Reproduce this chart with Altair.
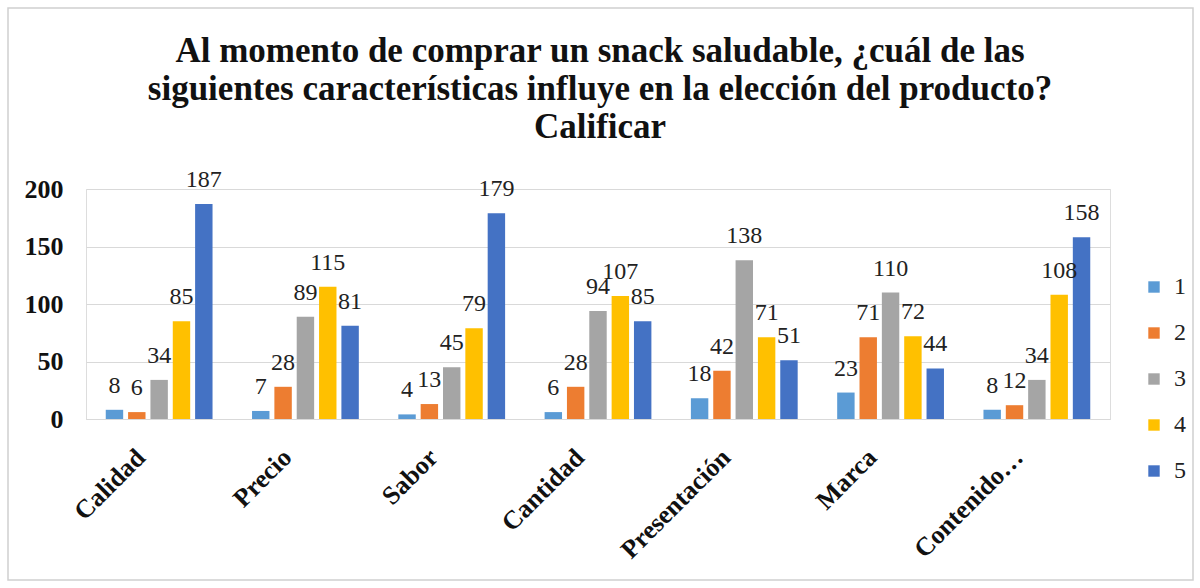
import altair as alt
import pandas as pd

categories = ["Calidad", "Precio", "Sabor", "Cantidad", "Presentación", "Marca", "Contenido…"]
series = ["1", "2", "3", "4", "5"]
values_1 = [8, 7, 4, 6, 18, 23, 8]
values_2 = [6, 28, 13, 28, 42, 71, 12]
values_3 = [34, 89, 45, 94, 138, 110, 34]
values_4 = [85, 115, 79, 107, 71, 72, 108]
values_5 = [187, 81, 179, 85, 51, 44, 158]
colors = ["#5B9BD5", "#ED7D31", "#A5A5A5", "#FFC000", "#4472C4"]
title_lines = ["Al momento de comprar un snack saludable, ¿cuál de las",
               "siguientes características influye en la elección del producto?",
               "Calificar"]

rows = []
for s, vals in zip(series, [values_1, values_2, values_3, values_4, values_5]):
    for c, v in zip(categories, vals):
        rows.append({"cat": c, "serie": s, "valor": v})
df = pd.DataFrame(rows)

SERIF = "Liberation Serif"

x = alt.X("cat:N", sort=categories, title=None,
          scale=alt.Scale(paddingInner=0.27, paddingOuter=0.135),
          axis=alt.Axis(labelAngle=-45, labelFont=SERIF, labelFontSize=26,
                        labelFontWeight="bold", labelColor="#111111",
                        labelPadding=34, labelOffset=-18, ticks=False,
                        domainColor="#d9d9d9",
                        labelAlign="right", labelBaseline="middle"))
xo = alt.XOffset("serie:N", sort=series, scale=alt.Scale(paddingInner=0.22))
y = alt.Y("valor:Q", title=None,
          scale=alt.Scale(domain=[0, 200]),
          axis=alt.Axis(values=[0, 50, 100, 150, 200], labelFont=SERIF,
                        labelFontSize=26, labelFontWeight="bold",
                        labelColor="#111111", labelPadding=23, ticks=False,
                        domain=False, gridColor="#d9d9d9"))

bars = alt.Chart(df).mark_bar().encode(
    x=x, xOffset=xo, y=y,
    color=alt.Color("serie:N", sort=series,
                    scale=alt.Scale(domain=series, range=colors),
                    legend=alt.Legend(title=None, orient="none", legendX=1056,
                                      legendY=86, symbolType="square",
                                      symbolSize=130, labelFont=SERIF,
                                      labelFontSize=24, labelColor="#222222",
                                      labelOffset=8,
                                      rowPadding=22, symbolStrokeWidth=0)),
)

labels = alt.Chart(df).mark_text(dy=-17, baseline="alphabetic", font=SERIF,
                                 fontSize=24, color="#222222").encode(
    x=x, xOffset=xo, y=y, text="valor:Q"
)

# chart title, three centred lines above the plot
title = alt.Chart(pd.DataFrame({"k": [0]})).mark_text(
    font=SERIF, fontSize=35, fontWeight="bold", color="#111111",
    baseline="alphabetic", align="center", lineBreak="\n", lineHeight=38
).encode(
    text=alt.value("\n".join(title_lines)),
    x=alt.value(514),
    y=alt.value(-127),
)

frame = alt.Chart(pd.DataFrame({"k": [0]})).mark_rect(
    fill=None, stroke="#d0d0d0", strokeWidth=1.5
).encode(x=alt.value(-78), x2=alt.value(1107), y=alt.value(-181), y2=alt.value(391))

chart = alt.layer(frame, title, bars, labels).properties(
    width=1024, height=230,
    padding={"left": 86, "top": 189, "right": 90, "bottom": 169},
    autosize=alt.AutoSizeParams(type="none"),
).configure_view(stroke=None).configure(background="white")

chart.save("out.html", embed_options={"renderer": "svg", "actions": False})
